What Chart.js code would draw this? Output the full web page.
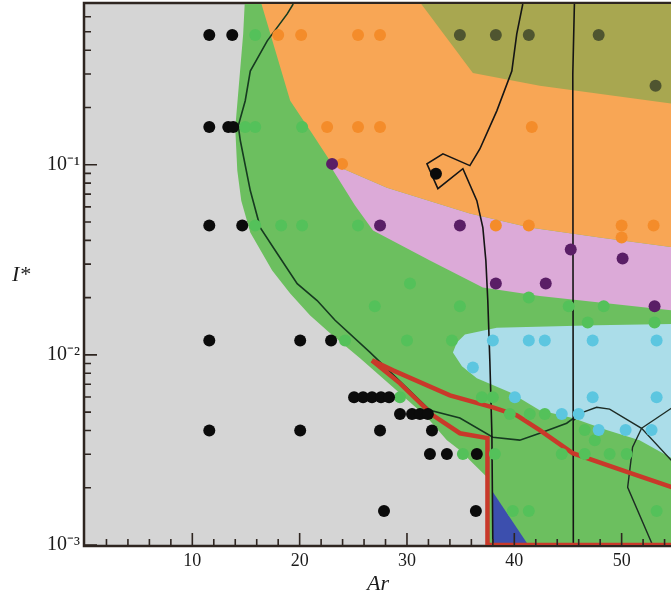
<!DOCTYPE html>
<html lang="en">
<head>
<meta charset="UTF-8">
<title>Ar - I* regime map</title>
<script src="https://cdn.jsdelivr.net/npm/chart.js"></script>
<style>
  * { margin: 0; padding: 0; box-sizing: border-box; }
  body { background: #fff; }
  #mapa { display: block; }
</style>
</head>
<body>
<canvas id="mapa" width="671" height="599"></canvas>
<script>
// axis ranges and ticks
const xMin = 0, xMax = 54.6;
const yMin = 0.001, yMax = 0.7;
const xTicks = [10, 20, 30, 40, 50];
const xMinor = [2, 4, 6, 8, 12, 14, 16, 18, 22, 24, 26, 28, 32, 34, 36, 38, 42, 44, 46, 48, 52, 54];
const yTicks = [0.001, 0.01, 0.1];
const yLabels = ['10⁻³', '10⁻²', '10⁻¹'];
const yMinor = [0.002, 0.003, 0.004, 0.005, 0.006, 0.007, 0.008, 0.009,
  0.02, 0.03, 0.04, 0.05, 0.06, 0.07, 0.08, 0.09, 0.2, 0.3, 0.4, 0.5, 0.6];

// regions, [Ar, I*]
const regionGreen = [[14.93, 0.8], [14.74, 0.488], [14.0, 0.156], [14.19, 0.0931], [14.56, 0.0647],
  [15.4, 0.044], [17.44, 0.0278], [19.12, 0.021], [20.98, 0.0161], [22.84, 0.013], [25.63, 0.0096],
  [28.7, 0.00675], [31.86, 0.0047], [33.72, 0.00356], [34.93, 0.00315], [36.14, 0.00269],
  [37.44, 0.00228], [37.44, 0.0009], [56, 0.0009], [56, 0.8]];
const regionPink = [[23.02, 0.101], [28.14, 0.0757], [35.86, 0.0553], [41.44, 0.0467], [47.95, 0.0414],
  [56, 0.036], [56, 0.0168], [42.37, 0.0204], [37.07, 0.0226], [32.14, 0.0313], [26.84, 0.0451],
  [25.16, 0.061], [23.12, 0.0931]];
const regionOrange = [[16.14, 0.8], [19.12, 0.217], [21.16, 0.146], [23.02, 0.101], [28.14, 0.0757],
  [35.86, 0.0553], [41.44, 0.0467], [47.95, 0.0414], [56, 0.036], [56, 0.8]];
const regionOlive = [[30.56, 0.8], [36.14, 0.304], [42.37, 0.26], [56, 0.205], [56, 0.8]];
const regionCyan = [[34.28, 0.0103], [34.65, 0.0116], [35.4, 0.0128], [38.37, 0.0139], [47.67, 0.0143],
  [56, 0.0146], [56, 0.0026], [51.67, 0.00356], [48.6, 0.00402], [45.44, 0.00465], [42.37, 0.00511],
  [39.58, 0.00635], [36.51, 0.00754], [35.12, 0.00871]];
const regionBlue = [[38.0, 0.0019], [41.3, 0.001], [38.0, 0.001]];

// boundary curves
const lineGreen = [[19.4, 0.7], [18.84, 0.621], [16.98, 0.448], [15.4, 0.311], [14.93, 0.217],
  [14.28, 0.16], [14.47, 0.134], [15.4, 0.0731], [16.33, 0.0467], [17.91, 0.0341], [19.77, 0.0237],
  [21.63, 0.0193], [23.3, 0.0152], [26.56, 0.0103], [32.14, 0.00511], [34.93, 0.00465],
  [38.0, 0.00369], [40.51, 0.00356], [42.37, 0.00387], [44.88, 0.00437], [45.53, 0.00465]];
const lineBlack = [[40.79, 0.7], [40.23, 0.488], [39.77, 0.311], [38.37, 0.192], [36.79, 0.121],
  [35.86, 0.0989], [33.35, 0.114], [31.86, 0.101], [32.88, 0.0748], [35.21, 0.0953], [36.51, 0.0647],
  [37.07, 0.0467], [37.35, 0.0313], [37.53, 0.0193], [37.72, 0.00935], [37.91, 0.00387], [38.0, 0.001]];
const lineVertical = [[45.6, 0.7], [45.45, 0.3], [45.5, 0.001]];
const lineRight1 = [[45.53, 0.00453], [46.37, 0.00499], [47.67, 0.0053], [48.88, 0.00518],
  [51.86, 0.00411], [56, 0.0023]];
const lineRight2 = [[51.86, 0.00411], [56, 0.0059]];
const lineRight3 = [[51.86, 0.00411], [51.02, 0.00327], [50.56, 0.00201], [52.88, 0.001]];
const redUpper = [[26.74, 0.00935], [28.7, 0.00829], [34.0, 0.00612], [38.0, 0.0053], [40.23, 0.00481],
  [42.37, 0.00402], [45.44, 0.00304], [50.56, 0.00242], [56, 0.0019]];
const redLower = [[26.74, 0.00935], [29.35, 0.00708], [32.42, 0.00481], [34.93, 0.00387],
  [37.5, 0.00365], [37.5, 0.001], [56, 0.001]];

// runs
const blackDots = [[11.58, 0.481], [13.72, 0.481], [11.58, 0.158], [13.35, 0.158], [13.81, 0.158],
  [11.58, 0.0479], [14.65, 0.0479], [11.58, 0.0119], [20.05, 0.0119], [22.93, 0.0119], [11.58, 0.004],
  [20.05, 0.004], [32.7, 0.0897], [25.07, 0.00598], [25.91, 0.00598], [26.74, 0.00598], [27.58, 0.00598],
  [28.33, 0.00598], [29.35, 0.00488], [30.47, 0.00488], [31.21, 0.00488], [31.95, 0.00488],
  [27.49, 0.004], [32.33, 0.004], [32.14, 0.00301], [33.72, 0.00301], [36.51, 0.00301],
  [27.86, 0.00151], [36.42, 0.00151]];
const greenDots = [[15.86, 0.481], [14.93, 0.158], [15.86, 0.158], [20.23, 0.158], [15.86, 0.0479],
  [18.28, 0.0479], [20.23, 0.0479], [25.44, 0.0479], [30.28, 0.0237], [27.0, 0.018], [34.93, 0.018],
  [41.35, 0.02], [45.07, 0.018], [48.33, 0.018], [46.84, 0.0148], [53.07, 0.0148], [24.23, 0.0119],
  [30.0, 0.0119], [34.19, 0.0119], [29.35, 0.00598], [36.98, 0.00598], [38.0, 0.00598], [39.58, 0.00488],
  [41.44, 0.00488], [42.84, 0.00488], [46.56, 0.00402], [47.5, 0.00356], [35.21, 0.00301],
  [38.19, 0.00301], [44.42, 0.00301], [46.56, 0.00301], [48.88, 0.00301], [50.47, 0.00301],
  [39.86, 0.00151], [41.35, 0.00151], [53.26, 0.00151]];
const orangeDots = [[18.0, 0.481], [20.14, 0.481], [25.44, 0.481], [27.49, 0.481], [22.56, 0.158],
  [25.44, 0.158], [27.49, 0.158], [41.63, 0.158], [23.95, 0.101], [38.28, 0.0479], [41.35, 0.0479],
  [50.0, 0.0479], [52.98, 0.0479], [50.0, 0.0414]];
const oliveDots = [[34.93, 0.481], [38.28, 0.481], [41.35, 0.481], [47.86, 0.481], [53.16, 0.26]];
const purpleDots = [[23.02, 0.101], [27.49, 0.0479], [34.93, 0.0479], [45.26, 0.0358], [50.09, 0.0321],
  [38.28, 0.0237], [42.93, 0.0237], [53.07, 0.018]];
const cyanDots = [[38.0, 0.0119], [41.35, 0.0119], [42.84, 0.0119], [47.3, 0.0119], [53.26, 0.0119],
  [36.14, 0.00859], [40.05, 0.00598], [47.3, 0.00598], [53.26, 0.00598], [44.42, 0.00488],
  [46.0, 0.00488], [47.86, 0.00402], [50.37, 0.00402], [52.79, 0.00402]];

const pts = arr => arr.map(([x, y]) => ({ x, y }));

function region(data, color, order) {
  return { data: pts(data), showLine: true, fill: 'shape', backgroundColor: color,
    borderWidth: 0, pointRadius: 0, tension: 0, order };
}
function curve(data, color, width, order) {
  return { data: pts(data), showLine: true, fill: false, borderColor: color,
    borderWidth: width, pointRadius: 0, tension: 0, order };
}
function dots(data, color, order) {
  return { data: pts(data), showLine: false, backgroundColor: color, borderWidth: 0,
    pointRadius: 6, order };
}

const frameColor = '#2e2520';

// grey background, frame, inward ticks and the I* title
const decor = {
  id: 'decor',
  beforeDatasetsDraw(chart) {
    const { ctx, chartArea: a } = chart;
    ctx.save();
    ctx.fillStyle = '#d5d5d5';
    ctx.fillRect(a.left, a.top, a.right - a.left, a.bottom - a.top);
    ctx.strokeStyle = frameColor;
    ctx.lineWidth = 2.5;
    ctx.beginPath();
    ctx.moveTo(a.right, a.top - 1);
    ctx.lineTo(a.left - 1, a.top - 1);
    ctx.lineTo(a.left - 1, a.bottom + 1);
    ctx.lineTo(a.right, a.bottom + 1);
    ctx.stroke();
    ctx.restore();
  },
  afterDatasetsDraw(chart) {
    const { ctx, chartArea: a, scales } = chart;
    ctx.save();
    ctx.strokeStyle = frameColor;
    ctx.lineWidth = 1.6;
    ctx.beginPath();
    scales.x.ticks.forEach(t => {
      const px = scales.x.getPixelForValue(t.value);
      const len = xTicks.includes(t.value) ? 12 : 6;
      ctx.moveTo(px, a.bottom);
      ctx.lineTo(px, a.bottom - len);
    });
    scales.y.ticks.forEach(t => {
      const py = scales.y.getPixelForValue(t.value);
      const major = yTicks.some(v => Math.abs(v - t.value) < 1e-12);
      ctx.moveTo(a.left, py);
      ctx.lineTo(a.left + (major ? 12 : 6), py);
    });
    ctx.stroke();
    ctx.fillStyle = '#1b1b1b';
    ctx.font = 'italic 22px "Liberation Serif"';
    ctx.textBaseline = 'alphabetic';
    ctx.fillText('I*', 12, 281);
    ctx.restore();
  }
};

const config = {
  type: 'scatter',
  data: {
    datasets: [
      dots(blackDots, '#0b0b0b', 0),
      dots(purpleDots, '#5a1e66', 1),
      dots(oliveDots, '#4f5530', 1),
      dots(orangeDots, '#f48c2a', 1),
      dots(cyanDots, '#5cc6e0', 1),
      dots(greenDots, '#54c15a', 1),
      curve(redUpper, '#c9392a', 4.5, 3),
      curve(redLower, '#c9392a', 4.5, 3),
      curve(lineBlack, '#151515', 1.6, 4),
      curve(lineVertical, '#151515', 1.6, 4),
      curve(lineRight1, '#1d2b24', 1.4, 4),
      curve(lineRight2, '#1d2b24', 1.4, 4),
      curve(lineRight3, '#1d2b24', 1.4, 4),
      curve(lineGreen, '#163a20', 1.6, 4),
      region(regionBlue, '#3c4fae', 10),
      region(regionCyan, '#abdde9', 11),
      region(regionOlive, '#a8a750', 12),
      region(regionOrange, '#f8a655', 13),
      region(regionPink, '#dcaad8', 14),
      region(regionGreen, '#6cbf5f', 15)
    ]
  },
  options: {
    responsive: false,
    animation: false,
    events: [],
    layout: { autoPadding: false, padding: { top: 4, right: 0, bottom: 0, left: 0 } },
    plugins: { legend: { display: false }, tooltip: { enabled: false } },
    scales: {
      x: {
        type: 'linear', min: xMin, max: xMax,
        grid: { display: false, drawTicks: false }, border: { display: false },
        afterBuildTicks: s => { s.ticks = xTicks.concat(xMinor).sort((a, b) => a - b).map(v => ({ value: v })); },
        ticks: {
          autoSkip: false, maxRotation: 0, padding: 5, color: '#1b1b1b',
          font: { family: 'Liberation Serif', size: 18 },
          callback: v => xTicks.includes(v) ? String(v) : ''
        },
        title: {
          display: true, text: 'Ar', color: '#1b1b1b', padding: { top: 0, bottom: 2 },
          font: { family: 'Liberation Serif', size: 22, style: 'italic' }
        },
        afterFit: s => { s.height = 54; s.paddingLeft = 0; s.paddingRight = 0; }
      },
      y: {
        type: 'logarithmic', min: yMin, max: yMax,
        grid: { display: false, drawTicks: false }, border: { display: false },
        afterBuildTicks: s => { s.ticks = yTicks.concat(yMinor).sort((a, b) => a - b).map(v => ({ value: v })); },
        ticks: {
          autoSkip: false, padding: 5, color: '#1b1b1b',
          font: { family: 'Liberation Serif', size: 20 },
          callback: v => {
            const i = yTicks.findIndex(t => Math.abs(t - v) < 1e-12);
            return i >= 0 ? yLabels[i] : '';
          }
        },
        afterFit: s => { s.width = 85; s.paddingTop = 0; s.paddingBottom = 0; }
      }
    }
  },
  plugins: [decor]
};

new Chart(document.getElementById('mapa'), config);
</script>
</body>
</html>
